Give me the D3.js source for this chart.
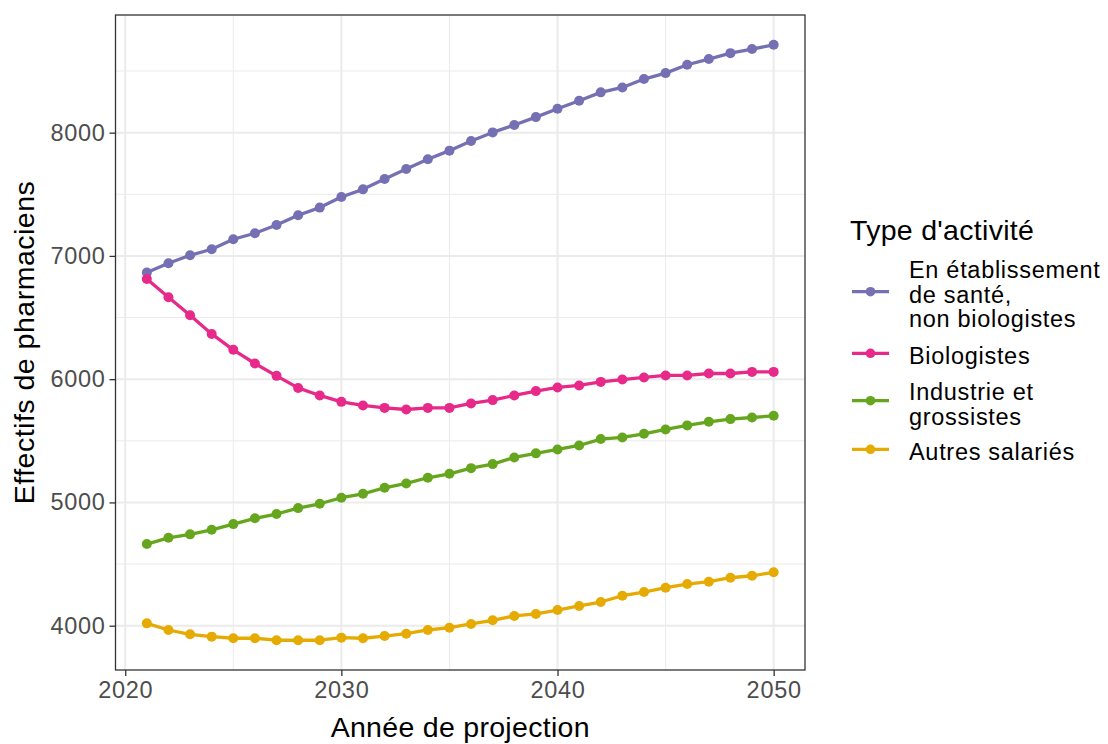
<!DOCTYPE html>
<html><head><meta charset="utf-8">
<script src="https://cdn.jsdelivr.net/npm/d3@7"></script>
<style>body{margin:0;background:#fff;} svg{display:block;font-family:"Liberation Sans",Arial,sans-serif;}</style>
</head><body>
<svg id="c" width="1108" height="744"></svg>
<script>
const years = d3.range(2021, 2051);
const seriesNames = ["En établissement\nde santé,\nnon biologistes", "Biologistes", "Industrie et\ngrossistes", "Autres salariés"];
const colors = ["#7570b3", "#e7298a", "#66a61e", "#e6ab02"];
const etablissement = [6865,6940,7005,7054,7135,7184,7251,7330,7392,7478,7540,7624,7705,7784,7854,7932,8002,8062,8126,8194,8259,8327,8367,8435,8483,8551,8597,8645,8678,8713];
const biologistes = [6813,6665,6519,6367,6238,6127,6027,5929,5868,5816,5787,5767,5754,5767,5767,5803,5830,5868,5903,5933,5949,5978,5997,6014,6030,6030,6046,6046,6059,6059];
const industrie = [4662,4713,4741,4778,4824,4871,4906,4954,4989,5038,5070,5119,5154,5200,5232,5278,5311,5365,5398,5430,5462,5514,5527,5557,5592,5625,5654,5676,5689,5703];
const autres = [4019,3965,3930,3911,3898,3898,3882,3882,3882,3903,3898,3916,3935,3965,3984,4014,4044,4079,4095,4127,4160,4192,4243,4273,4308,4338,4357,4389,4405,4433];
const xTicks = [2020, 2030, 2040, 2050];
const yTicks = [4000, 5000, 6000, 7000, 8000];
const xMinor = [2025, 2035, 2045];
const yMinor = [4500, 5500, 6500, 7500, 8500];
const xTitle = "Année de projection";
const yTitle = "Effectifs de pharmaciens";
const legendTitle = "Type d'activité";

const allSeries = [etablissement, biologistes, industrie, autres];
const svg = d3.select("#c");
const L = 115.5, R = 805, T = 15, B = 670;
const smallFont = "23.5px", smallLS = "0.7px", bigFont = "28.5px", bigLS = "0.3px";

const allVals = allSeries.flat();
const yMin = d3.min(allVals), yMax = d3.max(allVals);
const yPad = (yMax - yMin) * 0.05;
const xPad = (2050 - 2021) * 0.05;
const x = d3.scaleLinear().domain([2021 - xPad, 2050 + xPad]).range([L, R]);
const y = d3.scaleLinear().domain([yMin - yPad, yMax + yPad]).range([B, T]);

const g = svg.append("g");
g.selectAll(".xm").data(xMinor).join("line").attr("x1", d => x(d)).attr("x2", d => x(d)).attr("y1", T).attr("y2", B).attr("stroke", "#ebebeb").attr("stroke-width", 1);
g.selectAll(".ym").data(yMinor).join("line").attr("y1", d => y(d)).attr("y2", d => y(d)).attr("x1", L).attr("x2", R).attr("stroke", "#ebebeb").attr("stroke-width", 1);
g.selectAll(".xM").data(xTicks).join("line").attr("x1", d => x(d)).attr("x2", d => x(d)).attr("y1", T).attr("y2", B).attr("stroke", "#ebebeb").attr("stroke-width", 2);
g.selectAll(".yM").data(yTicks).join("line").attr("y1", d => y(d)).attr("y2", d => y(d)).attr("x1", L).attr("x2", R).attr("stroke", "#ebebeb").attr("stroke-width", 2);

const line = d3.line().x((d, i) => x(years[i])).y(d => y(d));
allSeries.forEach((s, k) => {
  svg.append("path").datum(s).attr("d", line).attr("fill", "none").attr("stroke", colors[k]).attr("stroke-width", 3.3).attr("stroke-linejoin", "round");
});
allSeries.forEach((s, k) => {
  svg.append("g").selectAll("circle").data(s).join("circle").attr("cx", (d, i) => x(years[i])).attr("cy", d => y(d)).attr("r", 5).attr("fill", colors[k]);
});

svg.append("rect").attr("x", L).attr("y", T).attr("width", R - L).attr("height", B - T).attr("fill", "none").attr("stroke", "#333333").attr("stroke-width", 1.3);

const xAxis = svg.append("g").attr("transform", `translate(0,${B})`).call(d3.axisBottom(x).tickValues(xTicks).tickFormat(d3.format("d")).tickSize(6).tickPadding(5));
const yAxis = svg.append("g").attr("transform", `translate(${L},0)`).call(d3.axisLeft(y).tickValues(yTicks).tickFormat(d3.format("d")).tickSize(6).tickPadding(4));
[xAxis, yAxis].forEach(a => {
  a.select(".domain").remove();
  a.selectAll(".tick line").attr("stroke", "#333333").attr("stroke-width", 1.3);
  a.selectAll(".tick text").attr("fill", "#4d4d4d").style("font-size", smallFont).style("letter-spacing", smallLS).style("font-family", "Liberation Sans, Arial, sans-serif");
});
xAxis.selectAll(".tick text").attr("dy", "0.71em");

svg.append("text").attr("x", (L + R) / 2).attr("y", 737).attr("text-anchor", "middle").style("font-size", bigFont).style("letter-spacing", bigLS).attr("fill", "#000").text(xTitle);
svg.append("text").attr("transform", `translate(34,${(T + B) / 2}) rotate(-90)`).attr("text-anchor", "middle").style("font-size", bigFont).style("letter-spacing", "0.5px").attr("fill", "#000").text(yTitle);

const leg = svg.append("g");
leg.append("text").attr("x", 850).attr("y", 240).style("font-size", bigFont).style("letter-spacing", bigLS).attr("fill", "#000").text(legendTitle);
const keyY = [291.7, 353.3, 400.7, 449.3];
const firstBaseline = [278.3, 364, 400, 460];
seriesNames.forEach((name, k) => {
  leg.append("line").attr("x1", 852).attr("x2", 889).attr("y1", keyY[k]).attr("y2", keyY[k]).attr("stroke", colors[k]).attr("stroke-width", 3.3);
  leg.append("circle").attr("cx", 870.5).attr("cy", keyY[k]).attr("r", 4.8).attr("fill", colors[k]);
  const t = leg.append("text").attr("x", 909).attr("y", firstBaseline[k]).style("font-size", smallFont).style("letter-spacing", smallLS).attr("fill", "#000");
  name.split("\n").forEach((ln, j) => {
    t.append("tspan").attr("x", 909).attr("dy", j === 0 ? 0 : 24.5).text(ln);
  });
});
</script>
</body></html>
